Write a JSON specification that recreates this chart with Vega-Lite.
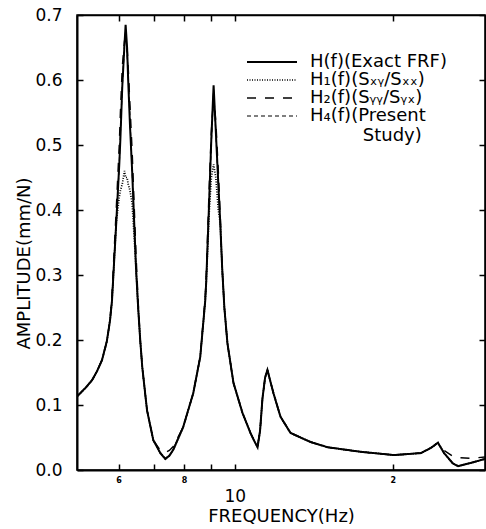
{
  "$schema": "https://vega.github.io/schema/vega-lite/v6.json",
  "width": 408,
  "height": 455,
  "autosize": "none",
  "padding": {"left": 77, "top": 15, "right": 1, "bottom": 59},
  "config": {
    "font": "DejaVu Sans",
    "view": {"stroke": "black", "strokeWidth": 1.5},
    "axis": {"grid": false, "domainColor": "black", "tickColor": "black", "labelColor": "black", "titleColor": "black", "domainWidth": 2, "tickWidth": 1.5}
  },
  "data": {"values": [
    {"freq": 5.0, "H": 0.113, "H1": 0.113, "H2": 0.113, "H4": 0.113},
    {"freq": 5.07, "H": 0.118, "H1": 0.118, "H2": 0.118, "H4": 0.118},
    {"freq": 5.2, "H": 0.127, "H1": 0.127, "H2": 0.127, "H4": 0.127},
    {"freq": 5.34, "H": 0.138, "H1": 0.138, "H2": 0.138, "H4": 0.138},
    {"freq": 5.46, "H": 0.152, "H1": 0.152, "H2": 0.152, "H4": 0.152},
    {"freq": 5.58, "H": 0.169, "H1": 0.169, "H2": 0.169, "H4": 0.169},
    {"freq": 5.7, "H": 0.198, "H1": 0.198, "H2": 0.198, "H4": 0.198},
    {"freq": 5.78, "H": 0.23, "H1": 0.23, "H2": 0.23, "H4": 0.23},
    {"freq": 5.83, "H": 0.26, "H1": 0.26, "H2": 0.27, "H4": 0.26},
    {"freq": 5.94, "H": 0.38, "H1": 0.38, "H2": 0.4, "H4": 0.38},
    {"freq": 6.02, "H": 0.47, "H1": 0.42, "H2": 0.5, "H4": 0.47},
    {"freq": 6.05, "H": 0.51, "H1": 0.43, "H2": 0.55, "H4": 0.52},
    {"freq": 6.1, "H": 0.59, "H1": 0.44, "H2": 0.62, "H4": 0.59},
    {"freq": 6.16, "H": 0.655, "H1": 0.46, "H2": 0.66, "H4": 0.655},
    {"freq": 6.19, "H": 0.685, "H1": 0.45, "H2": 0.665, "H4": 0.675},
    {"freq": 6.23, "H": 0.65, "H1": 0.45, "H2": 0.65, "H4": 0.64},
    {"freq": 6.26, "H": 0.6, "H1": 0.44, "H2": 0.62, "H4": 0.61},
    {"freq": 6.31, "H": 0.53, "H1": 0.43, "H2": 0.56, "H4": 0.54},
    {"freq": 6.37, "H": 0.46, "H1": 0.41, "H2": 0.49, "H4": 0.46},
    {"freq": 6.48, "H": 0.31, "H1": 0.31, "H2": 0.33, "H4": 0.31},
    {"freq": 6.54, "H": 0.25, "H1": 0.25, "H2": 0.26, "H4": 0.25},
    {"freq": 6.6, "H": 0.2, "H1": 0.2, "H2": 0.2, "H4": 0.2},
    {"freq": 6.66, "H": 0.158, "H1": 0.158, "H2": 0.158, "H4": 0.158},
    {"freq": 6.8, "H": 0.092, "H1": 0.092, "H2": 0.092, "H4": 0.092},
    {"freq": 6.99, "H": 0.046, "H1": 0.046, "H2": 0.046, "H4": 0.046},
    {"freq": 7.21, "H": 0.026, "H1": 0.026, "H2": 0.03, "H4": 0.026},
    {"freq": 7.37, "H": 0.017, "H1": 0.017, "H2": 0.027, "H4": 0.018},
    {"freq": 7.5, "H": 0.022, "H1": 0.022, "H2": 0.03, "H4": 0.022},
    {"freq": 7.63, "H": 0.031, "H1": 0.031, "H2": 0.036, "H4": 0.031},
    {"freq": 7.97, "H": 0.066, "H1": 0.066, "H2": 0.066, "H4": 0.066},
    {"freq": 8.33, "H": 0.118, "H1": 0.118, "H2": 0.118, "H4": 0.118},
    {"freq": 8.59, "H": 0.174, "H1": 0.174, "H2": 0.174, "H4": 0.174},
    {"freq": 8.78, "H": 0.26, "H1": 0.26, "H2": 0.265, "H4": 0.26},
    {"freq": 8.82, "H": 0.29, "H1": 0.29, "H2": 0.3, "H4": 0.29},
    {"freq": 8.94, "H": 0.42, "H1": 0.4, "H2": 0.44, "H4": 0.42},
    {"freq": 9.02, "H": 0.51, "H1": 0.45, "H2": 0.52, "H4": 0.505},
    {"freq": 9.11, "H": 0.592, "H1": 0.47, "H2": 0.575, "H4": 0.585},
    {"freq": 9.2, "H": 0.52, "H1": 0.45, "H2": 0.535, "H4": 0.52},
    {"freq": 9.3, "H": 0.44, "H1": 0.4, "H2": 0.46, "H4": 0.44},
    {"freq": 9.38, "H": 0.38, "H1": 0.38, "H2": 0.39, "H4": 0.38},
    {"freq": 9.46, "H": 0.31, "H1": 0.31, "H2": 0.31, "H4": 0.31},
    {"freq": 9.55, "H": 0.25, "H1": 0.25, "H2": 0.25, "H4": 0.25},
    {"freq": 9.68, "H": 0.195, "H1": 0.195, "H2": 0.195, "H4": 0.195},
    {"freq": 9.94, "H": 0.134, "H1": 0.134, "H2": 0.134, "H4": 0.134},
    {"freq": 10.34, "H": 0.088, "H1": 0.088, "H2": 0.088, "H4": 0.088},
    {"freq": 10.71, "H": 0.057, "H1": 0.057, "H2": 0.057, "H4": 0.057},
    {"freq": 10.9, "H": 0.044, "H1": 0.044, "H2": 0.044, "H4": 0.044},
    {"freq": 11.05, "H": 0.035, "H1": 0.035, "H2": 0.038, "H4": 0.035},
    {"freq": 11.17, "H": 0.06, "H1": 0.06, "H2": 0.06, "H4": 0.06},
    {"freq": 11.29, "H": 0.11, "H1": 0.11, "H2": 0.11, "H4": 0.11},
    {"freq": 11.42, "H": 0.142, "H1": 0.142, "H2": 0.142, "H4": 0.142},
    {"freq": 11.54, "H": 0.154, "H1": 0.154, "H2": 0.154, "H4": 0.154},
    {"freq": 11.7, "H": 0.135, "H1": 0.135, "H2": 0.135, "H4": 0.135},
    {"freq": 11.85, "H": 0.118, "H1": 0.118, "H2": 0.118, "H4": 0.118},
    {"freq": 12.22, "H": 0.082, "H1": 0.082, "H2": 0.082, "H4": 0.082},
    {"freq": 12.77, "H": 0.057, "H1": 0.057, "H2": 0.057, "H4": 0.057},
    {"freq": 13.95, "H": 0.043, "H1": 0.043, "H2": 0.043, "H4": 0.043},
    {"freq": 15.03, "H": 0.035, "H1": 0.035, "H2": 0.035, "H4": 0.035},
    {"freq": 17.38, "H": 0.028, "H1": 0.028, "H2": 0.028, "H4": 0.028},
    {"freq": 20.1, "H": 0.023, "H1": 0.023, "H2": 0.023, "H4": 0.023},
    {"freq": 22.63, "H": 0.026, "H1": 0.026, "H2": 0.026, "H4": 0.026},
    {"freq": 23.66, "H": 0.034, "H1": 0.034, "H2": 0.034, "H4": 0.034},
    {"freq": 24.4, "H": 0.042, "H1": 0.042, "H2": 0.042, "H4": 0.042},
    {"freq": 25.06, "H": 0.026, "H1": 0.026, "H2": 0.03, "H4": 0.026},
    {"freq": 26.06, "H": 0.01, "H1": 0.01, "H2": 0.021, "H4": 0.01},
    {"freq": 26.65, "H": 0.006, "H1": 0.006, "H2": 0.019, "H4": 0.006},
    {"freq": 28.21, "H": 0.011, "H1": 0.011, "H2": 0.018, "H4": 0.011},
    {"freq": 30, "H": 0.017, "H1": 0.017, "H2": 0.02, "H4": 0.017}
  ]},
  "transform": [{"fold": ["H", "H1", "H2", "H4"], "as": ["series", "amp"]}],
  "layer": [
    {
      "mark": {"type": "line", "color": "black", "clip": true},
      "encoding": {
        "x": {
          "field": "freq", "type": "quantitative",
          "scale": {"type": "log", "domain": [5, 30], "nice": false},
          "axis": {
            "orient": "bottom",
            "values": [6, 7, 8, 9, 10, 20],
            "title": "FREQUENCY(Hz)",
            "titleFontSize": 18, "titleFontWeight": "normal", "titlePadding": 3,
            "labelExpr": "datum.value == 6 ? '6' : datum.value == 8 ? '8' : datum.value == 10 ? '10' : datum.value == 20 ? '2' : ''",
            "labelFontSize": {"condition": {"test": "datum.value == 10", "value": 17}, "value": 8},
            "labelFontWeight": {"condition": {"test": "datum.value == 10", "value": "normal"}, "value": "bold"},
            "labelPadding": {"condition": {"test": "datum.value == 10", "value": 24}, "value": 12},
            "labelBaseline": "top",
            "labelFlush": false,
            "labelOverlap": false,
            "tickSize": -6
          }
        },
        "y": {
          "field": "amp", "type": "quantitative",
          "scale": {"domain": [0, 0.7], "nice": false},
          "axis": {
            "orient": "left",
            "values": [0, 0.1, 0.2, 0.3, 0.4, 0.5, 0.6, 0.7],
            "format": ".1f",
            "labelFontSize": 17,
            "labelPadding": 21,
            "tickSize": -6,
            "title": "AMPLITUDE(mm/N)",
            "titleFontSize": 18, "titleFontWeight": "normal", "titlePadding": 1,
            "titleY": 248
          }
        },
        "strokeDash": {
          "field": "series", "type": "nominal",
          "scale": {"domain": ["H", "H1", "H2", "H4"], "range": [[1, 0], [1, 1.5], [9, 9], [4, 3]]},
          "legend": {
            "orient": "none", "legendX": 186, "legendY": 38,
            "title": null,
            "padding": 0,
            "symbolType": "M-5,0H5",
            "symbolSize": 100,
            "symbolStrokeColor": "black",
            "symbolStrokeWidth": 1.5,
            "labelFontSize": 18,
            "labelColor": "black",
            "labelLimit": 400,
            "labelOffset": 29,
            "rowPadding": -1,
            "labelExpr": "datum.label == 'H' ? 'H(f)(Exact FRF)' : datum.label == 'H1' ? 'H₁(f)(Sₓᵧ/Sₓₓ)' : datum.label == 'H2' ? 'H₂(f)(Sᵧᵧ/Sᵧₓ)' : ['H₄(f)(Present', '\u2800\u2800\u2800\u2800Study)']"
          }
        },
        "strokeWidth": {
          "field": "series", "type": "nominal",
          "scale": {"domain": ["H", "H1", "H2", "H4"], "range": [2, 1.2, 1.5, 1.3]},
          "legend": null
        }
      }
    },
    {
      "mark": {"type": "line", "opacity": 0},
      "encoding": {
        "x": {
          "field": "freq", "type": "quantitative",
          "scale": {"type": "log", "domain": [5, 30], "nice": false},
          "axis": {"orient": "top", "values": [6, 7, 8, 9, 10, 20], "labels": false, "title": null, "tickSize": -6, "domainWidth": 1.5}
        },
        "y": {
          "field": "amp", "type": "quantitative",
          "scale": {"domain": [0, 0.7], "nice": false},
          "axis": {"orient": "right", "values": [0, 0.1, 0.2, 0.3, 0.4, 0.5, 0.6, 0.7], "labels": false, "title": null, "tickSize": -6, "domainWidth": 1.5}
        },
        "detail": {"field": "series", "type": "nominal"}
      }
    }
  ],
  "resolve": {"axis": {"x": "independent", "y": "independent"}}
}
